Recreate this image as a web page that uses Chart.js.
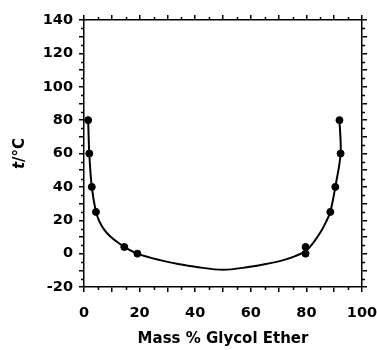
<!DOCTYPE html>
<html>
<head>
<meta charset="utf-8">
<script src="https://cdn.jsdelivr.net/npm/chart.js@4/dist/chart.umd.min.js"></script>
<style>
  html, body { margin: 0; padding: 0; background: #fff; }
  #wrap { width: 377px; height: 350px; }
</style>
</head>
<body>
<div id="wrap"><canvas id="chart"></canvas></div>
<script>
// measured points (mass %, t/°C)
const pointX = [1.5, 1.9, 2.8, 4.3, 14.5, 19.2, 79.7, 79.7, 88.6, 90.4, 92.3, 91.9];
const pointY = [80, 60, 40, 25, 4, 0, 4, 0, 25, 40, 60, 80];

// fitted curve
const curveX = [1.5, 1.9, 2.8, 4.3, 5.5, 7, 9, 11.5, 14.5, 19.2, 27.3, 34.5, 40, 50, 59.7, 65, 71.7, 76, 79.7, 82.4, 85.5, 87.2, 88.6, 90.4, 92.3, 91.9];
const curveY = [80, 60, 40, 25, 19.5, 15, 11, 7.5, 4, 0, -3.9, -6.4, -7.9, -9.7, -7.9, -6.4, -3.9, -1.5, 1.5, 6.3, 14, 19.5, 25, 40, 60, 80];

const xTicks = [0, 20, 40, 60, 80, 100];
const yTicks = [-20, 0, 20, 40, 60, 80, 100, 120, 140];

const tickFont = { family: 'DejaVu Sans', weight: 'bold', size: 14.5 };

// minor ticks every 5 units, short, drawn outward
const minorTicks = {
    id: 'minorTicks',
    afterDraw(chart) {
        const ctx = chart.ctx;
        ctx.save();
        ctx.strokeStyle = '#000';
        ctx.lineWidth = 1.5;
        const len = 3;
        Object.values(chart.scales).forEach(scale => {
            for (let v = scale.min + 5; v < scale.max; v += 10) {
                const p = Math.round(scale.getPixelForValue(v)) + 0.5;
                ctx.beginPath();
                if (scale.position === 'bottom') { ctx.moveTo(p, scale.top); ctx.lineTo(p, scale.top + len); }
                if (scale.position === 'top') { ctx.moveTo(p, scale.bottom); ctx.lineTo(p, scale.bottom - len); }
                if (scale.position === 'left') { ctx.moveTo(scale.right, p); ctx.lineTo(scale.right - len, p); }
                if (scale.position === 'right') { ctx.moveTo(scale.left, p); ctx.lineTo(scale.left + len, p); }
                ctx.stroke();
            }
        });
        ctx.restore();
    }
};

// y title with italic t
const yTitle = {
    id: 'yTitle',
    afterDraw(chart) {
        const ctx = chart.ctx;
        const area = chart.chartArea;
        ctx.save();
        ctx.translate(20, (area.top + area.bottom) / 2);
        ctx.rotate(-Math.PI / 2);
        ctx.fillStyle = '#000';
        ctx.textBaseline = 'middle';
        const f1 = 'italic bold 15px "DejaVu Sans"';
        const f2 = 'bold 15px "DejaVu Sans"';
        ctx.font = f1;
        const w1 = ctx.measureText('t').width;
        ctx.font = f2;
        const w2 = ctx.measureText('/°C').width;
        let x = -(w1 + w2) / 2;
        ctx.font = f1;
        ctx.fillText('t', x, 0);
        ctx.font = f2;
        ctx.fillText('/°C', x + w1, 0);
        ctx.restore();
    }
};

function noPad(s) {
    s.paddingLeft = 0; s.paddingRight = 0; s.paddingTop = 0; s.paddingBottom = 0;
}

function axisOpts(pos, min, max, labels, showLabels) {
    return {
        type: 'linear',
        position: pos,
        min: min,
        max: max,
        border: { display: true, color: '#000', width: 1.5 },
        grid: { display: true, drawOnChartArea: false, drawTicks: true, tickLength: 5, color: '#000', lineWidth: 1.5 },
        ticks: {
            display: showLabels,
            stepSize: 10,
            autoSkip: false,
            maxRotation: 0,
            color: '#000',
            font: tickFont,
            callback: v => labels.includes(v) ? String(v) : ''
        }
    };
}

const xAxis = axisOpts('bottom', 0, 100, xTicks, true);
xAxis.ticks.padding = 13;
xAxis.title = { display: true, text: 'Mass % Glycol Ether', color: '#000',
    font: { family: 'DejaVu Sans', weight: 'bold', size: 15 }, padding: { top: 0, bottom: 2 } };
xAxis.afterFit = s => { s.height = 63; noPad(s); };

const yAxis = axisOpts('left', -20, 140, yTicks, true);
yAxis.ticks.padding = 6;
yAxis.afterFit = s => { s.width = 84; noPad(s); };

const x2Axis = axisOpts('top', 0, 100, xTicks, false);
x2Axis.afterFit = s => { s.height = 20; noPad(s); };
const y2Axis = axisOpts('right', -20, 140, yTicks, false);
y2Axis.afterFit = s => { s.width = 15; noPad(s); };

new Chart(document.getElementById('chart'), {
    type: 'scatter',
    data: {
        datasets: [
            {
                type: 'line',
                data: curveX.map((x, i) => ({ x: x, y: curveY[i] })),
                borderColor: '#000',
                borderWidth: 2,
                pointRadius: 0,
                tension: 0.35,
                fill: false
            },
            {
                data: pointX.map((x, i) => ({ x: x, y: pointY[i] })),
                backgroundColor: '#000',
                borderColor: '#000',
                pointRadius: 3.5
            }
        ]
    },
    options: {
        responsive: true,
        maintainAspectRatio: false,
        animation: false,
        layout: { padding: 0 },
        plugins: { legend: { display: false }, tooltip: { enabled: false } },
        scales: { x: xAxis, y: yAxis, x2: x2Axis, y2: y2Axis }
    },
    plugins: [minorTicks, yTitle]
});
</script>
</body>
</html>
